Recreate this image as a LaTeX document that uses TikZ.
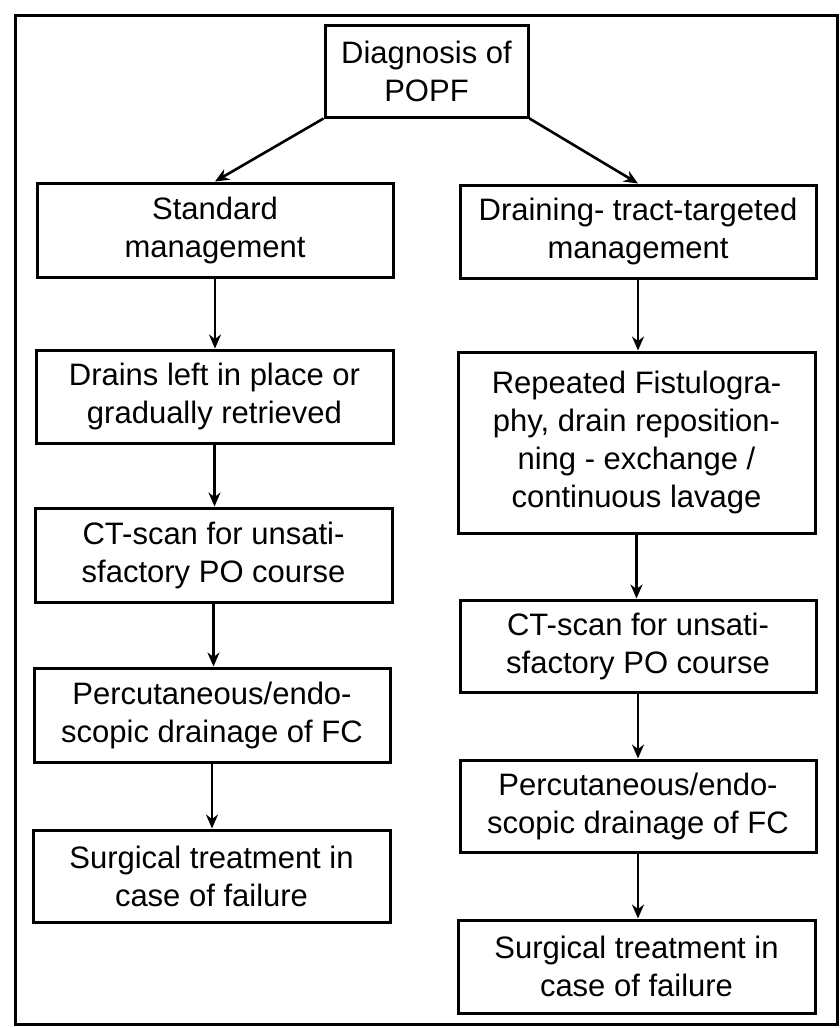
\documentclass[tikz,border=0pt]{standalone}
\usepackage{fontspec}
\setmainfont{Liberation Sans}
\usetikzlibrary{arrows.meta}
\begin{document}
\begin{tikzpicture}[x=1pt,y=-1pt,
  box/.style={draw,line width=3pt,inner sep=0pt,align=center,
    font=\fontsize{31}{38}\selectfont},
  arr/.style={line width=2.6pt,-{Stealth[length=14pt,width=12pt]}}]
\useasboundingbox (0,0) rectangle (840,1028);
\draw[line width=3pt] (15,15) rectangle (837,1024);
\node[box,minimum width=203pt,minimum height=92pt] (diag) at (426.5,71) {Diagnosis of\\POPF};
\node[box,minimum width=356pt,minimum height=94pt] (std) at (215,230) {Standard\\management};
\node[box,minimum width=356pt,minimum height=93pt] (drt) at (638,231.5) {Draining- tract-targeted\\management};
\node[box,minimum width=357pt,minimum height=93pt] (drains) at (214.5,396.5) {Drains left in place or\\gradually retrieved};
\node[box,minimum width=357pt,minimum height=181pt] (rep) at (636.5,442.5) {Repeated Fistulogra-\\phy, drain reposition-\\ning - exchange /\\continuous lavage};
\node[box,minimum width=357pt,minimum height=94pt] (ctL) at (213.5,555) {CT-scan for unsati-\\sfactory PO course};
\node[box,minimum width=356pt,minimum height=94pt] (percL) at (212,715) {Percutaneous/endo-\\scopic drainage of FC};
\node[box,minimum width=357pt,minimum height=92pt] (surgL) at (211.5,876) {Surgical treatment in\\case of failure};
\node[box,minimum width=356pt,minimum height=92pt] (ctR) at (638,646) {CT-scan for unsati-\\sfactory PO course};
\node[box,minimum width=356pt,minimum height=92pt] (percR) at (638,806) {Percutaneous/endo-\\scopic drainage of FC};
\node[box,minimum width=357pt,minimum height=93pt] (surgR) at (636.5,966.5) {Surgical treatment in\\case of failure};
\draw[arr] (diag.south west) -- (std.north);
\draw[arr] (diag.south east) -- (drt.north);
\draw[arr] (std.south) -- (std.south |- drains.north);
\draw[arr] (drains.south) -- (drains.south |- ctL.north);
\draw[arr] (ctL.south) -- (ctL.south |- percL.north);
\draw[arr] (percL.south) -- (percL.south |- surgL.north);
\draw[arr] (drt.south) -- (drt.south |- rep.north);
\draw[arr] (rep.south) -- (rep.south |- ctR.north);
\draw[arr] (ctR.south) -- (ctR.south |- percR.north);
\draw[arr] (percR.south) -- (percR.south |- surgR.north);
\end{tikzpicture}
\end{document}
